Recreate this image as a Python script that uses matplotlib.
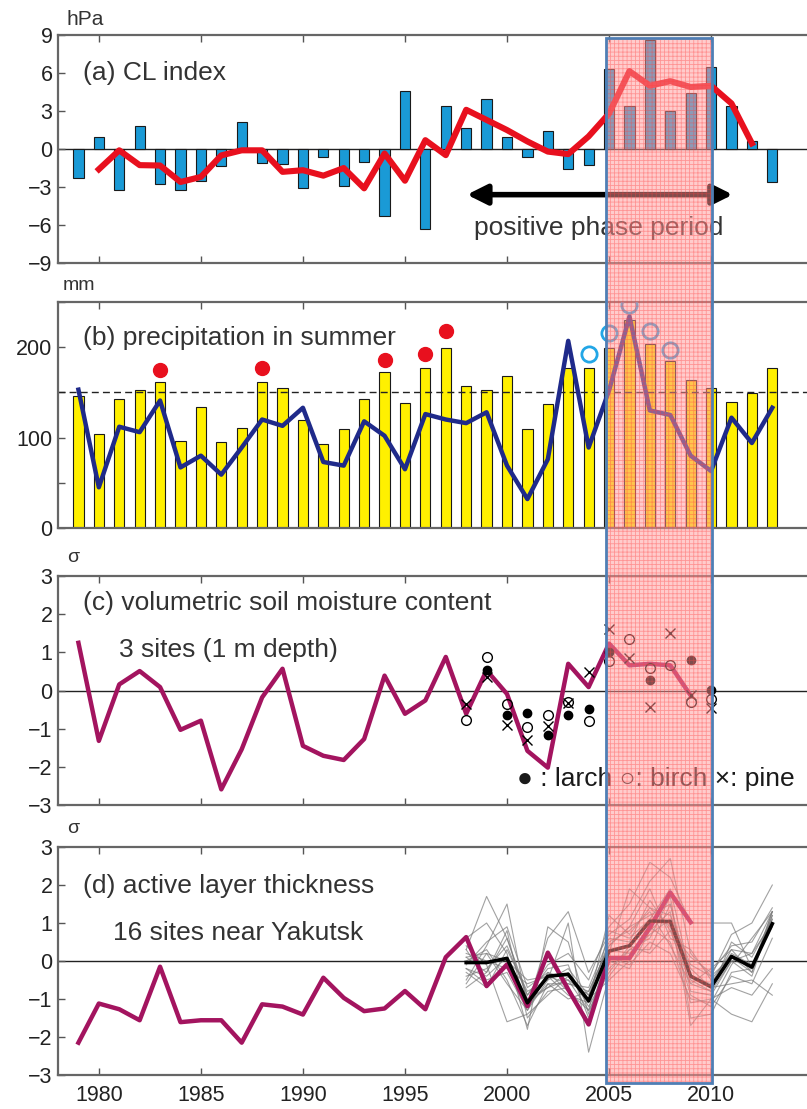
import numpy as np
import matplotlib
matplotlib.use("Agg")
import matplotlib.pyplot as plt
from matplotlib.patches import Rectangle
from matplotlib.transforms import blended_transform_factory

plt.rcParams['font.family'] = ['Liberation Sans', 'DejaVu Sans']
plt.rcParams['hatch.linewidth'] = 0.6

# (a) CL index, hPa
years = np.arange(1979, 2014)
cl_index = [-2.25, 0.98, -3.2, 1.83, -2.76, -3.26, -2.5, -1.3, 2.1, -1.1,
            -1.15, -3.1, -0.6, -2.9, -1.0, -5.3, 4.56, -6.3, 3.37, 1.64,
            3.95, 0.98, -0.6, 1.43, -1.6, -1.27, 6.3, 3.37, 8.6, 3.0,
            4.4, 6.5, 3.4, 0.6, -2.6]
cl_years = np.arange(1980, 2013)
cl_smooth = [-1.6, -0.1, -1.27, -1.3, -2.6, -2.2, -0.5, -0.1, -0.1, -1.8,
             -1.67, -2.1, -1.5, -3.1, -0.35, -2.5, 0.7, -0.48, 3.1, 2.3,
             1.5, 0.6, -0.2, -0.4, 1.0, 2.8, 6.15, 5.0, 5.36, 4.9,
             5.0, 3.6, 0.45]

# (b) summer precipitation, mm
precip = [146, 104, 143, 153, 161, 96, 134, 95, 111, 161,
          155, 120, 93, 110, 143, 173, 138, 177, 199, 157,
          153, 168, 110, 137, 177, 177, 199, 230, 203, 185,
          164, 155, 139, 149, 177]
precip_line = [153, 45, 112, 106, 141, 67, 80, 59, 89, 120,
               113, 133, 73, 69, 118, 102, 65, 126, 120, 116,
               128, 69, 32, 76, 207, 89, 152, 234, 130, 125,
               80, 63, 122, 94, 133]
precip_mean = 150
wet_years = [1983, 1988, 1994, 1996, 1997]
wet_vals = [175, 177, 186, 192, 218]
wet2_years = [2004, 2005, 2006, 2007, 2008]
wet2_vals = [192, 216, 247, 218, 197]

# (c) soil moisture, sigma
soil_years = np.arange(1979, 2010)
soil = [1.25, -1.32, 0.16, 0.51, 0.09, -1.03, -0.79, -2.59, -1.54, -0.18,
        0.57, -1.45, -1.71, -1.82, -1.27, 0.39, -0.61, -0.26, 0.88, -0.61,
        0.53, -0.09, -1.58, -2.02, 0.70, 0.09, 1.23, 0.66, 0.70, 0.66,
        -0.13]
larch_years = [1999, 2000, 2001, 2002, 2003, 2004, 2005, 2007, 2009, 2010]
larch = [0.54, -0.63, -0.6, -1.17, -0.63, -0.48, 1.0, 0.28, 0.79, 0.02]
birch_years = [1998, 1999, 2000, 2001, 2002, 2003, 2004, 2005, 2006, 2007, 2008, 2009, 2010]
birch = [-0.77, 0.89, -0.35, -0.96, -0.63, -0.31, -0.79, 0.77, 1.36, 0.6, 0.66, -0.31, -0.22]
pine_years = [1998, 1999, 2000, 2001, 2002, 2003, 2004, 2005, 2006, 2007, 2008, 2009, 2010]
pine = [-0.35, 0.35, -0.9, -1.3, -0.92, -0.32, 0.48, 1.6, 0.86, -0.44, 1.51, -0.13, -0.46]

# (d) active layer thickness, sigma
alt_years = np.arange(1979, 2010)
alt = [-2.15, -1.12, -1.27, -1.56, -0.15, -1.61, -1.56, -1.56, -2.15, -1.14,
       -1.2, -1.41, -0.44, -0.97, -1.32, -1.25, -0.79, -1.27, 0.1, 0.63,
       -0.66, -0.09, -1.19, 0.22, -0.75, -1.67, 0.08, 0.08, 0.88, 1.8,
       1.02]
site_years = np.arange(1998, 2014)
site_mean = [-0.04, -0.04, 0.07, -1.1, -0.4, -0.35, -1.05, 0.26, 0.4, 1.05,
             1.04, -0.4, -0.68, 0.12, -0.16, 0.98]
sites = [
    [0.3, 1.7, 0.6, -0.9, -0.1, 0.2, -0.5, 0.9, 1.5, 2.6, 2.2, 1.0, 1.0, 1.0, -0.2, 1.2],
    [-0.5, 0.4, 1.5, -1.2, 0.6, 1.3, -0.3, 0.7, 1.1, 2.1, 2.7, 0.2, -0.4, 0.7, 1.0, 2.0],
    [0.6, 1.0, 0.2, -1.8, 0.9, 0.5, -1.4, 0.2, 1.9, 1.4, 0.9, -0.9, -1.2, -0.4, -0.6, 0.6],
    [-0.3, -0.7, 0.3, -0.8, -0.5, 1.0, -2.4, -0.4, 0.3, 0.6, 1.7, -1.5, -1.4, -0.3, -0.2, 1.3],
    [0.1, 0.2, -0.6, -1.3, -0.3, -0.5, -0.9, 0.5, 0.8, 1.3, 0.4, -0.6, -0.8, 0.5, 0.1, 1.1],
    [-0.7, -0.3, 0.8, -1.5, -0.8, -0.7, -1.6, 0.0, -0.2, 0.8, 1.3, -1.7, -1.0, -0.7, -0.9, -0.2],
    [0.2, 0.0, -0.2, -0.6, -0.4, -0.6, -0.7, 0.6, 0.5, 1.6, 0.8, 0.1, -0.3, 0.4, 0.5, 1.4],
    [-0.2, -0.4, 0.1, -1.1, -0.7, -0.3, -1.2, -0.2, 0.3, 0.3, 1.5, -0.8, -0.9, 0.0, -0.4, 1.2],
    [0.0, 0.3, -0.5, -1.7, -0.6, -1.0, -0.8, 0.4, 0.9, 1.9, 0.6, 0.3, -0.5, 0.2, -0.1, 0.9],
    [-0.4, -0.2, 0.4, -0.9, -0.2, -0.1, -1.5, 0.3, 0.2, 0.7, 1.1, -0.2, -0.7, -0.6, -0.5, -0.9],
    [0.4, -0.1, -1.6, -1.4, -0.9, -0.4, -1.0, -0.5, 0.0, 0.9, 0.5, -1.1, -1.0, -1.4, -1.6, -0.6],
    [-0.1, 0.5, 0.9, -0.7, -0.3, -0.8, -1.3, 0.8, 0.6, 1.1, 1.9, -0.4, -0.6, 0.3, 0.2, 1.3],
    [0.3, -0.5, -0.3, -1.3, -0.5, -0.2, -0.9, 0.1, -0.1, 0.5, 0.2, -1.0, -1.1, -0.1, 0.6, 1.3],
    [-0.6, 0.2, 0.0, -0.5, -0.4, -0.9, -1.1, 1.2, 0.7, 1.4, 1.2, -0.1, -0.4, 0.1, -0.3, 1.3],
    [0.1, -0.3, 0.6, -1.0, -0.7, -0.5, -1.3, -0.3, 0.4, 0.2, 0.8, -0.6, -0.2, 0.3, -0.3, 1.1],
    [-0.2, -0.6, -0.1, -1.2, -0.6, -0.6, -0.8, 0.4, 0.9, 1.2, 1.5, -0.5, -0.8, 0.0, 0.2, 1.0],
]

phase_start, phase_end = 2004.85, 2010.05

TXT = '#333333'
SPINE = '#666666'
RED = '#e8101e'
MAGENTA = '#a3145f'
XLIM = (1978, 2014.7)

fig = plt.figure(figsize=(8.07, 11.09), dpi=100)
left, width = 0.0719, 0.9281
ax_a = fig.add_axes([left, 0.7628, width, 0.2056])
ax_b = fig.add_axes([left, 0.5239, width, 0.2038])
ax_c = fig.add_axes([left, 0.2741, width, 0.2065])
ax_d = fig.add_axes([left, 0.0307, width, 0.2055])

for ax in (ax_a, ax_b, ax_c, ax_d):
    ax.set_xlim(*XLIM)
    ax.set_xticks(np.arange(1980, 2015, 5))
    ax.tick_params(direction='in', length=5, width=1, color='#555555',
                   labelsize=15.5, labelcolor='#222222', pad=4, top=True)
    for side in ('left', 'top', 'bottom'):
        ax.spines[side].set_color(SPINE)
        ax.spines[side].set_linewidth(1.6)
    ax.spines['right'].set_visible(False)
    if ax is not ax_d:
        ax.tick_params(labelbottom=False)
    ax.axhline(0, color='#222222', lw=1, zorder=1)

# (a) CL index
ax_a.bar(years, cl_index, width=0.5, color='#1a9ad6', edgecolor='#1a1a1a', lw=0.8, zorder=2)
ax_a.plot(cl_years, cl_smooth, color=RED, lw=4.4, zorder=3)
ax_a.set_ylim(-9, 9)
ax_a.set_yticks(np.arange(-9, 10, 3))
ax_a.text(1979.2, 6.0, '(a) CL index', fontsize=19, color=TXT, va='center')
ax_a.annotate('', xy=(1997.9, -3.6), xytext=(2011.2, -3.6),
              arrowprops=dict(arrowstyle='<|-|>', lw=4, color='black', mutation_scale=30))
ax_a.text(2004.5, -6.2, 'positive phase period', fontsize=19, color=TXT, ha='center', va='center')
fig.text(0.083, 0.982, 'hPa', fontsize=15, color=TXT, va='center')

# (b) precipitation
ax_b.bar(years, precip, width=0.5, color='#fff000', edgecolor='#1a1a1a', lw=0.8, zorder=2)
ax_b.axhline(precip_mean, color='#222222', lw=1, ls=(0, (5, 3)), zorder=2)
ax_b.plot(years, precip_line, color='#1f2a8a', lw=3.2, zorder=3)
ax_b.plot(wet_years, wet_vals, 'o', color=RED, ms=10, zorder=4)
ax_b.plot(wet2_years, wet2_vals, 'o', mfc='none', mec='#22a6e6', mew=2, ms=11, zorder=4)
ax_b.set_ylim(0, 250)
ax_b.set_yticks(np.arange(0, 251, 50))
ax_b.set_yticklabels(['0', '', '100', '', '200', ''])
ax_b.text(1979.2, 210, '(b) precipitation in summer', fontsize=19, color=TXT, va='center')
fig.text(0.078, 0.743, 'mm', fontsize=14, color=TXT, va='center')

# (c) soil moisture
ax_c.plot(soil_years, soil, color=MAGENTA, lw=3.2, zorder=3)
ax_c.plot(larch_years, larch, 'o', color='black', ms=6, zorder=4)
ax_c.plot(birch_years, birch, 'o', mfc='none', mec='black', mew=1, ms=7, zorder=4)
ax_c.plot(pine_years, pine, 'x', color='black', mew=1, ms=7, zorder=4)
ax_c.set_ylim(-3, 3)
ax_c.set_yticks(np.arange(-3, 4, 1))
ax_c.text(1979.2, 2.28, '(c) volumetric soil moisture content', fontsize=19, color=TXT, va='center')
ax_c.text(1981.0, 1.05, '3 sites (1 m depth)', fontsize=19, color=TXT, va='center')
ax_c.text(2000.5, -2.32, '\u25cf : larch \u25cb: birch \u00d7: pine', fontsize=19,
          color='#1a1a1a', va='center')
fig.text(0.083, 0.497, '\u03c3', fontsize=14, color=TXT, va='center')

# (d) active layer thickness
for s in sites:
    ax_d.plot(site_years, s, color='#7a7a7a', lw=0.8, alpha=0.7, zorder=2)
ax_d.plot(alt_years, alt, color=MAGENTA, lw=3.2, zorder=3)
ax_d.plot(site_years, site_mean, color='black', lw=2.6, zorder=4)
ax_d.set_ylim(-3, 3)
ax_d.set_yticks(np.arange(-3, 4, 1))
ax_d.tick_params(axis='x', pad=7)
ax_d.text(1979.2, 1.98, '(d) active layer thickness', fontsize=19, color=TXT, va='center')
ax_d.text(1980.7, 0.74, '16 sites near Yakutsk', fontsize=19, color=TXT, va='center')
fig.text(0.083, 0.253, '\u03c3', fontsize=14, color=TXT, va='center')

# positive-phase highlight across all panels
trans = blended_transform_factory(ax_d.transData, fig.transFigure)
y0, h = 0.0234, 0.9423
fig.add_artist(Rectangle((phase_start, y0), phase_end - phase_start, h, transform=trans,
                         facecolor='#ff9a9a', edgecolor='none', alpha=0.5, zorder=10))
fig.add_artist(Rectangle((phase_start, y0), phase_end - phase_start, h, transform=trans,
                         facecolor='none', edgecolor='#ff4040', hatch='++++', lw=0,
                         alpha=0.4, zorder=11))
fig.add_artist(Rectangle((phase_start, y0), phase_end - phase_start, h, transform=trans,
                         facecolor='none', edgecolor='#4f7fb5', lw=2, zorder=12))

fig.savefig('out.png', dpi=100)
